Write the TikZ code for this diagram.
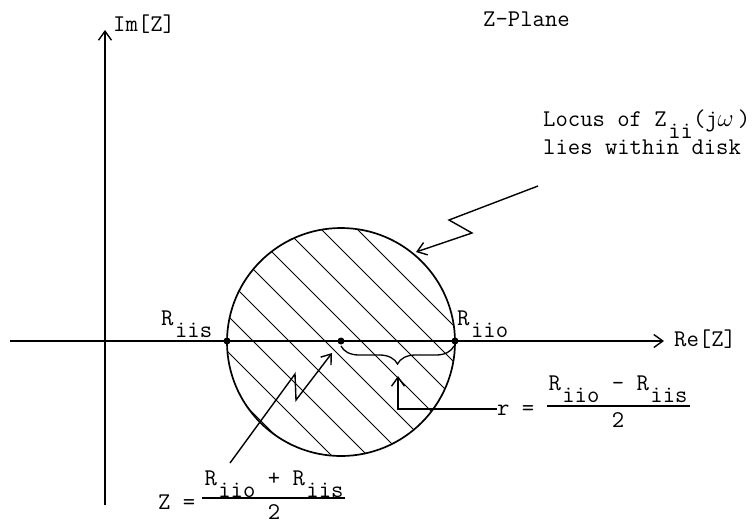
\documentclass[tikz,border=0pt]{standalone}
\usetikzlibrary{arrows.meta,decorations.pathreplacing}
\newcommand\sbs[1]{\kern1.5pt\raisebox{-0.5em}{#1}}
\begin{document}
\begin{tikzpicture}[x=1pt,y=-1pt,
  txt/.style={font=\ttfamily\fontsize{24}{28}\selectfont, inner sep=0pt, anchor=base west},
  axis/.style={line width=1.4pt},
  tip/.style={-{Straight Barb[length=9pt,width=13pt,line width=1.4pt]}},
  ptr/.style={line width=1.4pt},
  hatch/.style={line width=1pt},
  dot/.style={circle, fill=black, inner sep=0pt, minimum size=7pt}]
\useasboundingbox (0,0) rectangle (752,523);
% axes
\coordinate (xs) at (10,341);
\coordinate (xe) at (664,341);
\coordinate (ys) at (105,505);
\coordinate (ye) at (105,30);
\draw[axis,tip] (xs) -- (xe);
\draw[axis,tip] (ys) -- (ye);
% disk
\coordinate (c0) at (341,342);
\begin{scope}
  \clip (c0) circle (114);
  \foreach \c in {-160,-124,-88,-52,-16,20,56,92,128}
    \draw[hatch] (\c+190,190) -- (\c+500,500);
\end{scope}
\draw[line width=1.7pt] (c0) circle (114);
% points
\node[dot] (ps) at (227,341) {};
\node[dot] (pc) at (341,341) {};
\node[dot] (po) at (455,341) {};
% labels
\node[txt] (imz) at (113,31) {Im[Z]};
\node[txt] (zpl) at (483,26) {Z-Plane};
\node[txt] (rez) at (674,346) {Re[Z]};
\node[txt] (ris) at (161,325) {R\sbs{iis}};
\node[txt] (rio) at (457,325) {R\sbs{iio}};
\node[txt, align=left] (loc) at (543,154) {Locus of Z\sbs{ii}(j$\omega$\,)\\lies within disk};
% locus pointer
\coordinate (l1) at (538,186);
\coordinate (l2) at (449,220);
\coordinate (l3) at (472,233);
\coordinate (l4) at (416,252);
\draw[ptr,tip] (l1) -- (l2) -- (l3) -- (l4);
% brace
\coordinate (b1) at (341,346);
\coordinate (b2) at (454,346);
\draw[line width=1.3pt, decorate, decoration={brace, mirror, amplitude=18pt}] (b1) -- (b2);
% r label
\node[txt] (req) at (497,415) {r =};
\node[txt, anchor=base] (rnum) at (618,390) {R\sbs{iio} - R\sbs{iis}};
\node[txt, anchor=base] (rden) at (618,427) {2};
\coordinate (rb1) at (547,406);
\coordinate (rb2) at (690,406);
\draw[line width=1.3pt] (rb1) -- (rb2);
\coordinate (ra) at (398,409);
\coordinate (rt) at (398,376);
\draw[ptr,tip] (req.west |- ra) -- (ra) -- (rt);
% Z label
\node[txt] (zeq) at (158,509) {Z =};
\node[txt, anchor=base] (znum) at (274,485) {R\sbs{iio} + R\sbs{iis}};
\node[txt, anchor=base] (zden) at (274,519) {2};
\coordinate (zb1) at (202,498);
\coordinate (zb2) at (345,498);
\draw[line width=1.3pt] (zb1) -- (zb2);
\coordinate (z1) at (230,463);
\coordinate (z2) at (295,374);
\coordinate (z3) at (296,400);
\coordinate (z4) at (332,353);
\draw[ptr,tip] (z1) -- (z2) -- (z3) -- (z4);
\end{tikzpicture}
\end{document}
